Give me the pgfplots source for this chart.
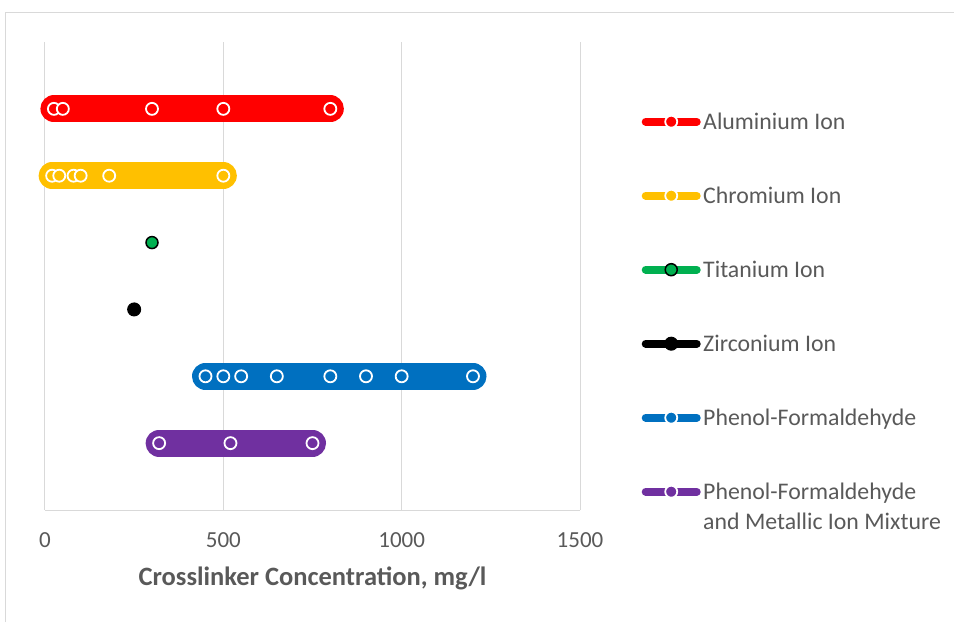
\documentclass[border=0pt]{standalone}
\usepackage{pgfplots}
\pgfplotsset{compat=1.18}
\usepackage{fontspec}
\setmainfont{Carlito}
\definecolor{txt}{HTML}{595959}
\definecolor{gridc}{HTML}{D9D9D9}
\definecolor{cRed}{HTML}{FF0000}
\definecolor{cYel}{HTML}{FFC000}
\definecolor{cGrn}{HTML}{00B050}
\definecolor{cBlu}{HTML}{0070C0}
\definecolor{cPur}{HTML}{7030A0}
\newcommand{\bigfont}{\fontsize{23}{30}\selectfont}
\newcommand{\legfont}{\fontsize{23.8}{30}\selectfont}
\pgfplotsset{
  ser/.style={color=#1, line width=27pt, line cap=round, mark=*, mark size=6pt,
    mark options={fill=#1, draw=white, line width=1.8pt}},
}
\begin{document}
\begin{tikzpicture}[x=1pt,y=1pt]
\useasboundingbox (0,0) rectangle (954,622);
\draw[gridc, line width=1pt] (5,0) -- (5,609) -- (954,609);
\begin{axis}[
  at={(45pt,112pt)}, anchor=south west,
  scale only axis, width=535pt, height=468pt,
  xmin=0, xmax=1500, ymin=0, ymax=7,
  xtick={0,500,1000,1500}, ytick=\empty,
  axis x line*=bottom, axis y line=none,
  x axis line style={-, gridc, line width=1pt},
  xmajorgrids, grid style={gridc, line width=1pt},
  major tick length=0pt,
  clip=false,
  /pgf/number format/assume math mode=true,
  /pgf/number format/1000 sep={},
  xticklabel style={font=\bigfont, text=txt, yshift=-19pt},
  xlabel={\textbf{Crosslinker Concentration, mg/l}},
  xlabel style={font=\fontsize{26.5}{30}\selectfont, text=txt, yshift=-12pt},
  legend image code/.code={
    \draw[#1, line width=8pt, line cap=round, mark=none] (0pt,0pt) -- (51pt,0pt);
    \draw[#1] plot coordinates {(25.5pt,0pt)};
    \path[draw=none, fill=none, line width=0pt] (-4pt,-8pt) rectangle (56pt,8pt);
  },
  legend cell align=left,
  legend style={at={(1.115,0.859)}, anchor=north west, draw=none, fill=none,
    font=\legfont, text=txt, inner sep=0pt, row sep=47pt,
    nodes={inner sep=1.5pt}},
]
\addplot[ser=cRed] coordinates {(25,6) (50,6) (300,6) (500,6) (800,6)};
\addlegendentry{Aluminium Ion}
\addplot[ser=cYel] coordinates {(20,5) (40,5) (80,5) (100,5) (180,5) (500,5)};
\addlegendentry{Chromium Ion}
\addplot[color=cGrn, line width=27pt, line cap=round, mark=*, mark size=6pt,
  mark options={fill=cGrn, draw=black, line width=1.5pt}] coordinates {(300,4)};
\addlegendentry{Titanium Ion}
\addplot[color=black, line width=27pt, line cap=round, mark=*, mark size=6.5pt,
  mark options={fill=black, draw=black, line width=1pt}] coordinates {(250,3)};
\addlegendentry{Zirconium Ion}
\addplot[ser=cBlu] coordinates {(450,2) (500,2) (550,2) (650,2) (800,2) (900,2) (1000,2) (1200,2)};
\addlegendentry{Phenol-Formaldehyde}
\addplot[ser=cPur] coordinates {(320,1) (520,1) (750,1)};
\addlegendentry{\makebox[0pt][l]{\smash{\raisebox{-30pt}{and Metallic Ion Mixture}}}Phenol-Formaldehyde}
\end{axis}
\end{tikzpicture}
\end{document}
